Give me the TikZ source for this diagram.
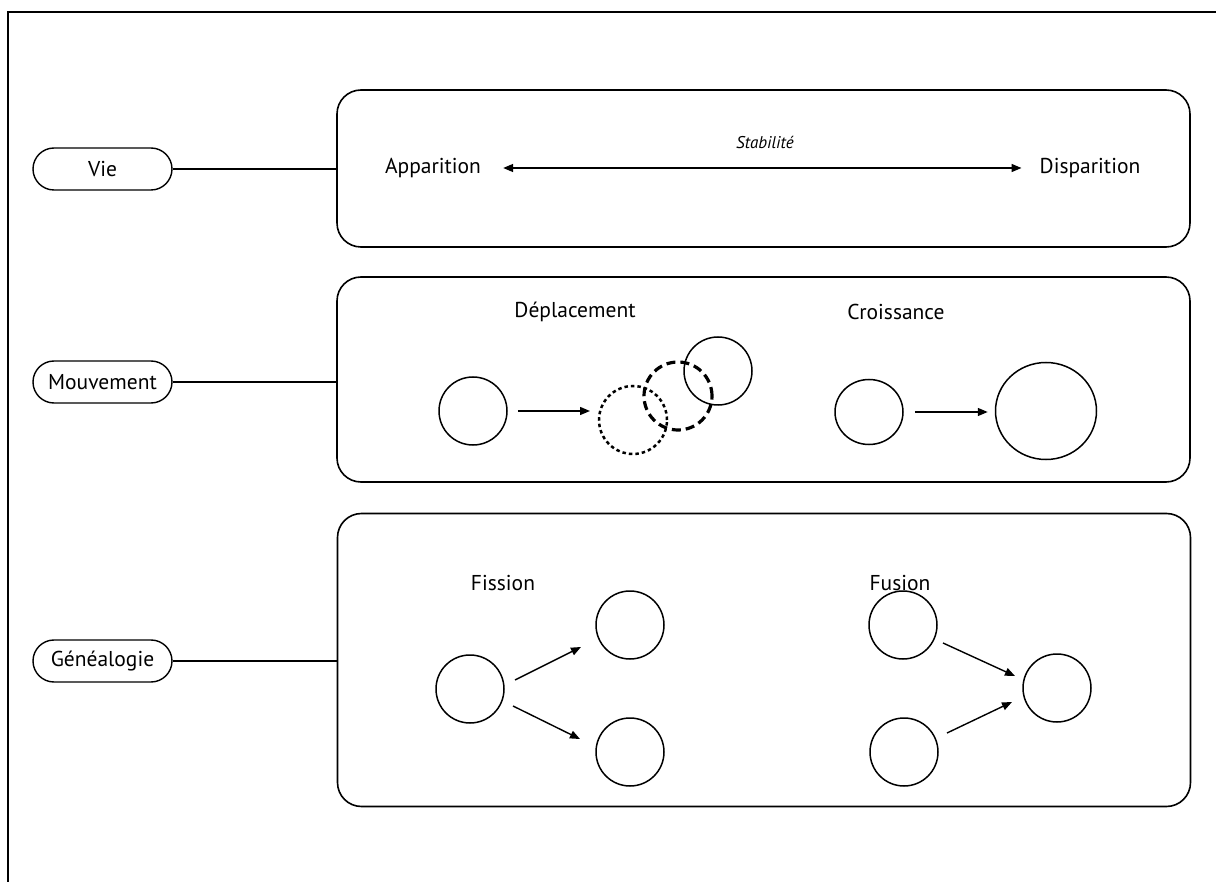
\documentclass[tikz,border=0pt]{standalone}
\usepackage{fontspec}
\setmainfont{PT Sans}
\usetikzlibrary{arrows.meta,shapes.geometric}
\begin{document}
\begin{tikzpicture}[x=1pt,y=-1pt,
  every node/.style={font=\fontsize{21.5}{24}\selectfont, inner sep=0pt},
  pill/.style={draw, line width=1.4pt, rounded corners=21pt, minimum width=139pt, minimum height=42pt},
  bigbox/.style={draw, line width=1.6pt, rounded corners=24pt, minimum width=853pt},
  link/.style={line width=1.4pt},
  blob/.style={draw, circle, line width=1.5pt, minimum size=68pt},
  arr/.style={line width=1.4pt, -{Triangle[length=10pt,width=8pt]}},
  dotc/.style={blob, dash pattern=on 3.5pt off 3pt, line width=2.5pt},
  dashc/.style={blob, dash pattern=on 9pt off 5pt, line width=3.2pt}
]
\useasboundingbox (0,0) rectangle (1216,882);
\draw[line width=2.5pt] (1216,12) -- (8,12) -- (8,882);

% boxes
\node[bigbox, minimum height=157pt] (b1) at (763.5,168.5) {};
\node[bigbox, minimum height=205pt] (b2) at (763.5,379.5) {};
\node[bigbox, minimum height=293pt] (b3) at (764,660) {};

% pills
\node[pill] (vie) at (102.5,169) {Vie};
\node[pill] (mouv) at (102.5,382) {Mouvement};
\node[pill] (gen) at (102.5,661) {Généalogie};
\draw[link] (vie.east) -- (vie.east -| b1.west);
\draw[link] (mouv.east) -- (mouv.east -| b2.west);
\draw[link] (gen.east) -- (gen.east -| b3.west);

% Vie
\node (app) at (433,168) {Apparition};
\node (disp) at (1090,168) {Disparition};
\node[font=\fontsize{17}{20}\selectfont\itshape] (stab) at (765,142) {Stabilité};
\draw[line width=1.4pt, {Triangle[length=10pt,width=8pt]}-{Triangle[length=10pt,width=8pt]}]
  ([xshift=22pt]app.east) -- ([xshift=-18pt]disp.west);

% Mouvement
\node (depl) at (575,312) {Déplacement};
\node (croi) at (896,312) {Croissance};
\node[blob] (d1) at (473,411) {};
\node[dotc] (d2) at (633,420) {};
\node[dashc] (d3) at (678,396) {};
\node[blob] (d4) at (718,371) {};
\draw[arr] ([xshift=10pt]d1.east) -- ([shift={(-43,-9)}]d2.center);

\node[blob, ellipse, minimum width=68pt, minimum height=65pt] (c1) at (869,412) {};
\node[blob, ellipse, minimum width=101pt, minimum height=97pt] (c2) at (1046,411) {};
\draw[arr] ([xshift=11pt]c1.east) -- ([xshift=-7pt]c2.west |- c1.east);

% Généalogie
\node (fis) at (503,583) {Fission};
\node (fus) at (900,583) {Fusion};
\node[blob] (f1) at (470,689) {};
\node[blob] (f2) at (630,625) {};
\node[blob] (f3) at (630,752) {};
\draw[arr] ([shift={(45,-9)}]f1.center) -- ([shift={(-49,22)}]f2.center);
\draw[arr] ([shift={(43,17)}]f1.center) -- ([shift={(-50,-13)}]f3.center);

\node[blob] (u1) at (903,625) {};
\node[blob] (u2) at (904,752) {};
\node[blob] (u3) at (1057,688) {};
\draw[arr] ([shift={(40,18)}]u1.center) -- ([shift={(-42,-12)}]u3.center);
\draw[arr] ([shift={(43,-19)}]u2.center) -- ([shift={(-45,14)}]u3.center);
\end{tikzpicture}
\end{document}
